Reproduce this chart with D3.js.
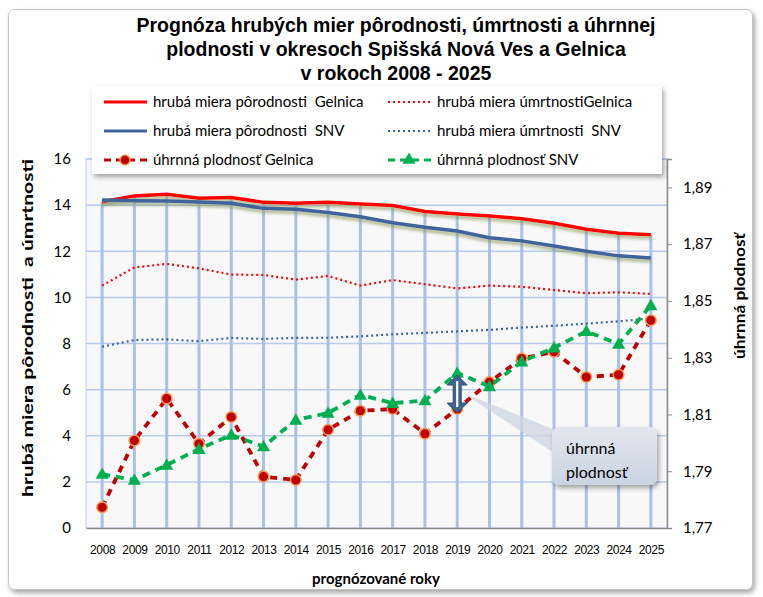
<!DOCTYPE html>
<html>
<head>
<meta charset="utf-8">
<script src="https://cdn.jsdelivr.net/npm/d3@7"></script>
<style>
  body { margin: 0; background: #fff; }
  text { white-space: pre; }
</style>
</head>
<body>
<div id="chart"></div>
<script>
// --- data ---
const years = [2008, 2009, 2010, 2011, 2012, 2013, 2014, 2015, 2016,
               2017, 2018, 2019, 2020, 2021, 2022, 2023, 2024, 2025];

const birthGelnica = [14.15, 14.4, 14.47, 14.3, 14.33, 14.12, 14.08, 14.12, 14.05,
                      13.98, 13.72, 13.62, 13.53, 13.41, 13.21, 12.95, 12.78, 12.72];
const deathGelnica = [10.51, 11.3, 11.45, 11.26, 10.99, 10.97, 10.77, 10.93, 10.51,
                      10.75, 10.57, 10.39, 10.51, 10.46, 10.32, 10.18, 10.22, 10.15];
const birthSNV = [14.22, 14.19, 14.18, 14.14, 14.08, 13.86, 13.82, 13.68, 13.5,
                  13.24, 13.04, 12.88, 12.59, 12.45, 12.23, 12.0, 11.8, 11.71];
const deathSNV = [7.86, 8.15, 8.18, 8.1, 8.24, 8.2, 8.24, 8.25, 8.31,
                  8.4, 8.46, 8.53, 8.59, 8.69, 8.77, 8.86, 8.96, 9.09];
const fertGelnica = [1.7773, 1.8008, 1.8156, 1.7997, 1.8091, 1.7881, 1.7869, 1.8046, 1.8113,
                     1.8119, 1.8032, 1.8119, 1.8214, 1.8297, 1.8321, 1.8232, 1.824, 1.8432];
const fertSNV = [1.789, 1.7869, 1.7922, 1.7978, 1.8028, 1.7987, 1.8081, 1.8105, 1.8169,
                 1.814, 1.8149, 1.8246, 1.8199, 1.8286, 1.8335, 1.8393, 1.8348, 1.8484];

const leftTicks = [0, 2, 4, 6, 8, 10, 12, 14, 16];
const rightTicks = [1.77, 1.79, 1.81, 1.83, 1.85, 1.87, 1.89];

const seriesNames = [
  'hrubá miera pôrodnosti  Gelnica', 'hrubá miera úmrtnostiGelnica',
  'hrubá miera pôrodnosti  SNV', 'hrubá miera úmrtnosti  SNV',
  'úhrnná plodnosť Gelnica', 'úhrnná plodnosť SNV'
];
const titleLines = [
  'Prognóza hrubých mier pôrodnosti, úmrtnosti a úhrnnej',
  'plodnosti v okresoch Spišská Nová Ves a Gelnica',
  'v rokoch 2008 - 2025'
];
const calloutLines = ['úhrnná', 'plodnosť'];

// --- layout ---
const width = 763, height = 597;
const plot = { left: 86, right: 667, top: 159, bottom: 528 };
const calibri = 'Lato, "Open Sans", sans-serif';
const arial = '"Liberation Sans", Arial, sans-serif';

const RED = '#ff0000', BLUE = '#3f649b', DRED = '#c00000', GREEN = '#00b050';

const svg = d3.select('#chart').append('svg')
  .attr('width', width)
  .attr('height', height);

const defs = svg.append('defs');
defs.append('filter').attr('id', 'boxShadow')
  .attr('x', '-10%').attr('y', '-10%').attr('width', '130%').attr('height', '140%')
  .append('feDropShadow')
  .attr('dx', 2).attr('dy', 3).attr('stdDeviation', 2.5)
  .attr('flood-color', '#000').attr('flood-opacity', 0.35);
defs.append('filter').attr('id', 'lineShadow')
  .attr('x', '-5%').attr('y', '-20%').attr('width', '110%').attr('height', '160%')
  .append('feDropShadow')
  .attr('dx', 0).attr('dy', 3).attr('stdDeviation', 1.6)
  .attr('flood-color', '#7f8f4c').attr('flood-opacity', 0.6);
const grad = defs.append('linearGradient').attr('id', 'callGrad')
  .attr('x1', 0).attr('y1', 0).attr('x2', 0).attr('y2', 1);
grad.append('stop').attr('offset', '0%').attr('stop-color', '#e2e7ef');
grad.append('stop').attr('offset', '100%').attr('stop-color', '#c9d3e1');

// chart frame
svg.append('rect')
  .attr('x', 8.5).attr('y', 9.5).attr('width', 744).attr('height', 580)
  .attr('rx', 6)
  .attr('fill', '#fff').attr('stroke', '#c4c4c4')
  .attr('filter', 'url(#boxShadow)');

const x = d3.scalePoint().domain(years).range([plot.left, plot.right]).padding(0.5);
const y = d3.scaleLinear().domain([0, 16]).range([plot.bottom, plot.top]);
const y2 = d3.scaleLinear().domain([1.77, 1.90]).range([plot.bottom, plot.top]);

// plot area
svg.append('rect')
  .attr('x', plot.left).attr('y', plot.top)
  .attr('width', plot.right - plot.left).attr('height', plot.bottom - plot.top)
  .attr('fill', '#f8f8f8').attr('stroke', '#b9cbeb');

svg.append('g').selectAll('line')
  .data(leftTicks.filter(d => d > 0))
  .join('line')
  .attr('x1', plot.left).attr('x2', plot.right)
  .attr('y1', d => y(d)).attr('y2', d => y(d))
  .attr('stroke', '#b9cbeb').attr('stroke-width', 1.5);

// high-low lines
svg.append('g').selectAll('line')
  .data(years)
  .join('line')
  .attr('x1', d => x(d)).attr('x2', d => x(d))
  .attr('y1', (d, i) => y(birthGelnica[i])).attr('y2', plot.bottom)
  .attr('stroke', '#a9c0e8').attr('stroke-width', 3);

// axes
svg.append('g')
  .attr('transform', `translate(0,${plot.bottom})`)
  .call(d3.axisBottom(x).tickSize(0).tickPadding(17))
  .call(g => g.select('.domain').attr('stroke', '#8c8c8c').attr('stroke-width', 1.5))
  .call(g => g.selectAll('text')
    .attr('font-family', arial).attr('font-size', 12)
    .attr('letter-spacing', -0.4).attr('fill', '#000'));

svg.append('g')
  .attr('transform', `translate(${plot.left - 15},0)`)
  .call(d3.axisLeft(y).tickValues(leftTicks).tickSize(0).tickPadding(0))
  .call(g => g.select('.domain').remove())
  .call(g => g.selectAll('text')
    .attr('font-family', calibri).attr('font-size', 15).attr('fill', '#000'));

svg.append('g')
  .attr('transform', `translate(${plot.right},0)`)
  .call(d3.axisRight(y2).tickValues(rightTicks).tickSize(5).tickPadding(11)
    .tickFormat(d => d3.format('.2f')(d).replace('.', ',')))
  .call(g => g.select('.domain').attr('stroke', '#8c8c8c').attr('stroke-width', 1.5))
  .call(g => g.selectAll('.tick line').attr('stroke', '#8c8c8c'))
  .call(g => g.selectAll('text')
    .attr('font-family', calibri).attr('font-size', 15).attr('fill', '#000'));

// series
const line = (vals, scale) => d3.line()
  .x((d, i) => x(years[i]))
  .y(d => scale(d))(vals);

svg.append('path').attr('d', line(deathGelnica, y))
  .attr('fill', 'none').attr('stroke', RED).attr('stroke-width', 2.2)
  .attr('stroke-dasharray', '2 3');
svg.append('path').attr('d', line(deathSNV, y))
  .attr('fill', 'none').attr('stroke', BLUE).attr('stroke-width', 2.2)
  .attr('stroke-dasharray', '2 3');
svg.append('path').attr('d', line(birthGelnica, y))
  .attr('fill', 'none').attr('stroke', RED).attr('stroke-width', 3.5)
  .attr('filter', 'url(#lineShadow)');
svg.append('path').attr('d', line(birthSNV, y))
  .attr('fill', 'none').attr('stroke', BLUE).attr('stroke-width', 3.5)
  .attr('filter', 'url(#lineShadow)');

svg.append('path').attr('d', line(fertGelnica, y2))
  .attr('fill', 'none').attr('stroke', DRED).attr('stroke-width', 3.8)
  .attr('stroke-dasharray', '7 6');
svg.append('g').selectAll('circle')
  .data(fertGelnica)
  .join('circle')
  .attr('cx', (d, i) => x(years[i])).attr('cy', d => y2(d))
  .attr('r', 5.3)
  .attr('fill', DRED).attr('stroke', '#f59d56').attr('stroke-width', 1.5);

const tri = d3.symbol(d3.symbolTriangle, 75);
svg.append('path').attr('d', line(fertSNV, y2))
  .attr('fill', 'none').attr('stroke', GREEN).attr('stroke-width', 3.8)
  .attr('stroke-dasharray', '8 6');
svg.append('g').selectAll('path')
  .data(fertSNV)
  .join('path')
  .attr('d', tri)
  .attr('transform', (d, i) => `translate(${x(years[i])},${y2(d) + 1})`)
  .attr('fill', GREEN);

// legend
const legend = svg.append('g');
legend.append('rect')
  .attr('x', 92).attr('y', 86).attr('width', 570).attr('height', 88)
  .attr('fill', '#fff').attr('filter', 'url(#boxShadow)');

const legendStyles = [
  { stroke: RED, w: 3, dash: null },
  { stroke: RED, w: 2, dash: '2 3' },
  { stroke: BLUE, w: 3, dash: null },
  { stroke: BLUE, w: 2, dash: '2 3' },
  { stroke: DRED, w: 3, dash: '7 5', marker: 'circle' },
  { stroke: GREEN, w: 3, dash: '7 5', marker: 'triangle' }
];
seriesNames.forEach((name, i) => {
  const col = i % 2, row = Math.floor(i / 2);
  const lx = col === 0 ? 104 : 388;
  const ly = 102 + row * 29;
  const st = legendStyles[i];
  const g = legend.append('g');
  g.append('line')
    .attr('x1', lx).attr('x2', lx + 43).attr('y1', ly).attr('y2', ly)
    .attr('stroke', st.stroke).attr('stroke-width', st.w)
    .attr('stroke-dasharray', st.dash);
  if (st.marker === 'circle') {
    g.append('circle').attr('cx', lx + 21).attr('cy', ly).attr('r', 5)
      .attr('fill', DRED).attr('stroke', '#f59d56').attr('stroke-width', 1.5);
  } else if (st.marker === 'triangle') {
    g.append('path').attr('d', tri)
      .attr('transform', `translate(${lx + 21},${ly})`).attr('fill', GREEN);
  }
  g.append('text')
    .attr('x', lx + 49).attr('y', ly + 5)
    .attr('font-family', calibri).attr('font-size', 15).attr('fill', '#000')
    .text(name);
});

// titles
svg.append('g').selectAll('text')
  .data(titleLines)
  .join('text')
  .attr('x', 396).attr('y', (d, i) => 32 + i * 24)
  .attr('text-anchor', 'middle')
  .attr('font-family', arial).attr('font-weight', 'bold').attr('font-size', 19.5)
  .attr('fill', '#000')
  .text(d => d);

svg.append('text')
  .attr('transform', 'translate(33,328) rotate(-90)')
  .attr('text-anchor', 'middle')
  .attr('font-family', calibri).attr('font-weight', 'bold').attr('font-size', 16)
  .attr('textLength', 338).attr('lengthAdjust', 'spacingAndGlyphs')
  .text('hrubá miera pôrodnosti  a úmrtnosti');

svg.append('text')
  .attr('transform', 'translate(745,296) rotate(-90)')
  .attr('text-anchor', 'middle')
  .attr('font-family', calibri).attr('font-weight', 'bold').attr('font-size', 16)
  .attr('textLength', 126).attr('lengthAdjust', 'spacingAndGlyphs')
  .text('úhrnná plodnosť');

svg.append('text')
  .attr('x', 376).attr('y', 584)
  .attr('text-anchor', 'middle')
  .attr('font-family', calibri).attr('font-weight', 'bold').attr('font-size', 15)
  .text('prognózované roky');

// callout with double arrow at 2019
const ci = years.indexOf(2019);
const ax = x(2019);
const aTop = y2(fertSNV[ci]) + 2, aBot = y2(fertGelnica[ci]) + 4;
const bx = 552, by = 427, bw = 105, bh = 58;

const call = svg.append('g');
call.append('path')
  .attr('d', `M${ax + 6},${aTop + 18} L${bx + 6},${by + 4} L${bx + 2},${by + 26} Z`)
  .attr('fill', '#cdd6e2').attr('opacity', 0.75);
call.append('rect')
  .attr('x', bx).attr('y', by).attr('width', bw).attr('height', bh).attr('rx', 7)
  .attr('fill', 'url(#callGrad)').attr('filter', 'url(#boxShadow)');
call.selectAll('text')
  .data(calloutLines)
  .join('text')
  .attr('x', bx + 14).attr('y', (d, i) => by + 27 + i * 24)
  .attr('font-family', calibri).attr('font-size', 16).attr('fill', '#000')
  .text(d => d);

const hw = 10, hh = 10, sw = 4;
call.append('path')
  .attr('d', `M${ax},${aTop} L${ax + hw},${aTop + hh} L${ax + sw},${aTop + hh}
    L${ax + sw},${aBot - hh} L${ax + hw},${aBot - hh} L${ax},${aBot}
    L${ax - hw},${aBot - hh} L${ax - sw},${aBot - hh} L${ax - sw},${aTop + hh}
    L${ax - hw},${aTop + hh} Z`)
  .attr('fill', '#41618f').attr('stroke', '#2f4b78').attr('stroke-width', 1);
call.append('line')
  .attr('x1', ax).attr('x2', ax).attr('y1', aTop + 6).attr('y2', aBot - 6)
  .attr('stroke', '#fff').attr('stroke-width', 2.2);
</script>
</body>
</html>
